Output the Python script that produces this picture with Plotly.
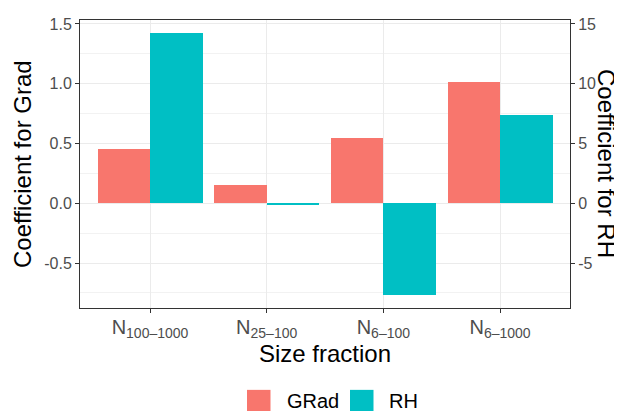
import plotly.graph_objects as go

categories = ["N<sub>100–1000</sub>", "N<sub>25–100</sub>", "N<sub>6–100</sub>", "N<sub>6–1000</sub>"]
grad_values = [0.454, 0.157, 0.548, 1.016]
rh_values = [14.23, -0.12, -7.65, 7.38]
series_names = ["GRad", "RH"]
series_colors = ["#F8766D", "#00BFC4"]
left_ticks = [-0.5, 0.0, 0.5, 1.0, 1.5]
left_tick_text = ["-0.5", "0.0", "0.5", "1.0", "1.5"]
right_ticks = [-5, 0, 5, 10, 15]
right_tick_text = ["-5", "0", "5", "10", "15"]

# page body has an 8px margin, so the figure is offset by 8px
OFF = 8
W, H = 622 - OFF, 411 - OFF
ML, MT = 80 - OFF, 16 - OFF
PR, PB = 570 - OFF, 308 - OFF
MR, MB = W - PR, H - PB
PW, PH = W - ML - MR, H - MT - MB

def px_x(p):
    return (p - OFF - ML) / PW

def px_y(p):
    return (PB - (p - OFF)) / PH

FONT = "Liberation Sans, Arial, sans-serif"

fig = go.Figure()
fig.add_trace(go.Bar(x=categories, y=grad_values, name=series_names[0],
                     marker=dict(color=series_colors[0], line=dict(width=0)),
                     width=0.45, offset=-0.45, yaxis="y", showlegend=False))
fig.add_trace(go.Bar(x=categories, y=rh_values, name=series_names[1],
                     marker=dict(color=series_colors[1], line=dict(width=0)),
                     width=0.45, offset=0.0, yaxis="y2", showlegend=False))

lo, hi = -0.876, 1.533

fig.update_layout(
    width=W, height=H,
    margin=dict(l=ML, r=MR, t=MT, b=MB, pad=0),
    paper_bgcolor="white", plot_bgcolor="white",
    font=dict(family=FONT),
    bargap=0,
    xaxis=dict(type="category", categoryorder="array", categoryarray=categories,
               range=[-0.6, 3.6], showgrid=True, gridcolor="#EBEBEB", gridwidth=1,
               showline=True, linecolor="#333333", linewidth=1, mirror=True,
               ticks="outside", ticklen=4, tickcolor="#333333", tickwidth=1,
               ticklabelstandoff=-3,
               tickfont=dict(size=20, color="#4D4D4D", family=FONT), zeroline=False),
    yaxis=dict(range=[lo, hi], tickvals=left_ticks, ticktext=left_tick_text,
               showgrid=True, gridcolor="#EBEBEB", gridwidth=1,
               minor=dict(dtick=0.25, tick0=0, showgrid=True, gridcolor="#F2F2F2", gridwidth=1),
               showline=True, linecolor="#333333", linewidth=1, mirror=True,
               ticks="outside", ticklen=4, tickcolor="#333333", tickwidth=1,
               tickfont=dict(size=16, color="#4D4D4D", family=FONT), zeroline=False),
    yaxis2=dict(range=[lo * 10, hi * 10], tickvals=right_ticks, ticktext=right_tick_text,
                overlaying="y", side="right", showgrid=False, zeroline=False,
                showline=False, ticks="outside", ticklen=4, tickcolor="#333333", tickwidth=1,
                tickfont=dict(size=16, color="#4D4D4D", family=FONT)),
)

annotations = [
    dict(text="Coefficient for Grad", x=px_x(22), y=px_y(162), xref="paper", yref="paper",
         showarrow=False, textangle=-90, xanchor="center", yanchor="middle",
         font=dict(size=24, color="black", family=FONT)),
    dict(text="Coefficient for RH", x=px_x(607), y=px_y(161), xref="paper", yref="paper",
         showarrow=False, textangle=90, xanchor="center", yanchor="middle",
         font=dict(size=24, color="black", family=FONT)),
    dict(text="Size fraction", x=px_x(325), y=px_y(354), xref="paper", yref="paper",
         showarrow=False, xanchor="center", yanchor="middle",
         font=dict(size=24, color="black", family=FONT)),
]

legend_items = [(247, 285), (350, 387)]
shapes = []
for (sx, tx), name, color in zip(legend_items, series_names, series_colors):
    shapes.append(dict(type="rect", xref="paper", yref="paper",
                       x0=px_x(sx), x1=px_x(sx + 23.5), y0=px_y(391), y1=px_y(414.5),
                       fillcolor=color, line=dict(width=0), layer="above"))
    annotations.append(dict(text=name, x=px_x(tx), y=px_y(402), xref="paper", yref="paper",
                            showarrow=False, xanchor="left", yanchor="middle",
                            font=dict(size=20, color="black", family=FONT)))

fig.update_layout(annotations=annotations, shapes=shapes)
fig.write_html("out.html")
